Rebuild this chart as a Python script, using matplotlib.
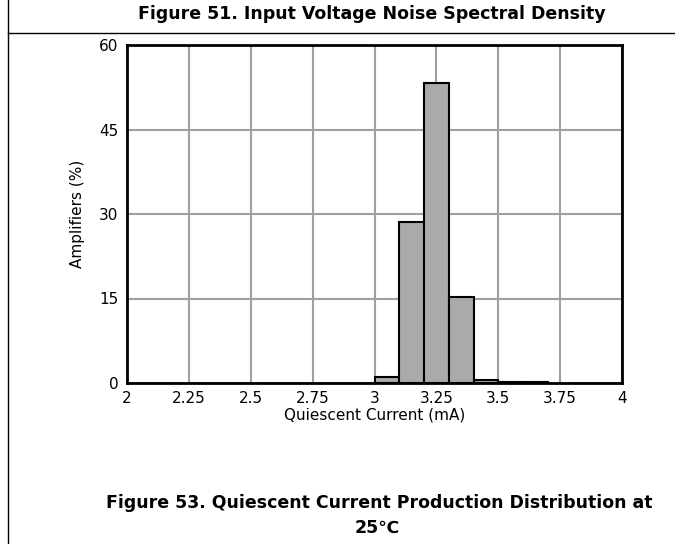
import numpy as np
import matplotlib
matplotlib.use('Agg')
import matplotlib.pyplot as plt
from matplotlib.lines import Line2D

plt.rcParams['font.family'] = ['DejaVu Sans']

# 静态电流分布直方图数据 (bin 左边界, 百分比)
bin_left = [3.0, 3.1, 3.2, 3.3, 3.4, 3.5, 3.6]
percent = [1.1, 28.6, 53.3, 15.3, 0.5, 0.1, 0.1]
bin_width = 0.1

x_ticks = [2, 2.25, 2.5, 2.75, 3, 3.25, 3.5, 3.75, 4]
x_tick_labels = ['2', '2.25', '2.5', '2.75', '3', '3.25', '3.5', '3.75', '4']
y_ticks = [0, 15, 30, 45, 60]

W, H = 675, 544
fig = plt.figure(figsize=(W / 100, H / 100), dpi=100)
ax = fig.add_axes([127 / W, 1 - 383 / H, 495 / W, 338 / H])

ax.bar(bin_left, percent, width=bin_width, align='edge',
       color='#aaaaaa', edgecolor='black', linewidth=1.5, zorder=3)

ax.set_xlim(2, 4)
ax.set_ylim(0, 60)
ax.set_xticks(x_ticks)
ax.set_xticklabels(x_tick_labels)
ax.set_yticks(y_ticks)
ax.tick_params(length=0, labelsize=11)
ax.tick_params(axis='x', pad=6)
ax.tick_params(axis='y', pad=6)
ax.grid(True, color='#a0a0a0', linewidth=1.5, zorder=0)
for s in ax.spines.values():
    s.set_linewidth(2)
    s.set_zorder(4)

ax.set_xlabel('Quiescent Current (mA)', fontsize=11, labelpad=1)
ax.set_ylabel('Amplifiers (%)', fontsize=11, labelpad=10)

# 页面框线和标题
fig.add_artist(Line2D([8 / W, 8 / W], [0, 1], color='black', linewidth=1))
fig.add_artist(Line2D([8 / W, 1], [1 - 33 / H, 1 - 33 / H], color='black', linewidth=1))
fig.text(372 / W, 1 - 14 / H, 'Figure 51. Input Voltage Noise Spectral Density',
         ha='center', va='center', fontsize=12.5, fontweight='bold')
fig.text(379 / W, 1 - 503 / H, 'Figure 53. Quiescent Current Production Distribution at',
         ha='center', va='center', fontsize=12.5, fontweight='bold')
fig.text(377 / W, 1 - 528 / H, '25℃',
         ha='center', va='center', fontsize=12.5, fontweight='bold')

fig.savefig('out.png', dpi=100)
